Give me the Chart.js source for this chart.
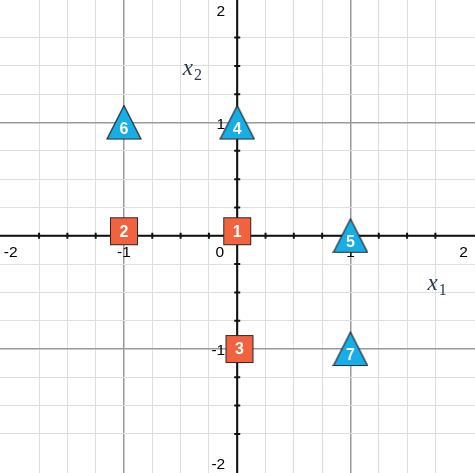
<!DOCTYPE html>
<html>
<head>
<meta charset="utf-8">
<script src="https://cdn.jsdelivr.net/npm/chart.js@4.4.1/dist/chart.umd.min.js"></script>
<style>
  body { margin: 0; background: #fff; }
</style>
</head>
<body>
<canvas id="myChart" width="475" height="473"></canvas>
<script>
// data
const squareLabels = ['1', '2', '3'];
const squareX = [0, -1, 0.02];
const squareY = [0.04, 0.04, -1];

const triangleLabels = ['4', '5', '6', '7'];
const triangleX = [0, 1, -1, 1];
const triangleY = [1, 0, 1, -1];

const tickValues = [-2, -1, 1, 2];
const tickLabels = ['-2', '-1', '1', '2'];

// marker images (pointStyle can be a canvas)
function makeSquare(size, fill) {
  const c = document.createElement('canvas');
  c.width = size + 2; c.height = size + 2;
  const g = c.getContext('2d');
  g.fillStyle = fill;
  g.fillRect(1, 1, size, size);
  g.strokeStyle = '#2a2a2a';
  g.lineWidth = 1;
  g.strokeRect(1.5, 1.5, size - 1, size - 1);
  return c;
}

function makeTriangle(size, fill) {
  const c = document.createElement('canvas');
  c.width = size + 2; c.height = size + 2;
  const g = c.getContext('2d');
  g.beginPath();
  g.moveTo(c.width / 2, 1);
  g.lineTo(size + 1, size + 0.5);
  g.lineTo(1, size + 0.5);
  g.closePath();
  g.fillStyle = fill;
  g.fill();
  g.strokeStyle = '#2a2a2a';
  g.lineWidth = 1.2;
  g.stroke();
  return c;
}

const toPoints = (xs, ys) => xs.map((v, i) => ({ x: v, y: ys[i] }));

const isInt = v => Math.abs(v - Math.round(v)) < 1e-6;
const isQuarter = v => Math.abs(v * 4 - Math.round(v * 4)) < 1e-6;

// grid: darker at integers, light every quarter
function gridColor(c) {
  const v = c.tick.value;
  if (isInt(v)) return '#9a9a9a';
  if (isQuarter(v)) return '#dedede';
  return 'rgba(0,0,0,0)';
}
const gridWidth = c => (isInt(c.tick.value) ? 1.5 : 1);

// axes through the origin, tick marks, tick labels and axis titles
const axesPlugin = {
  id: 'centerAxes',
  beforeDatasetsDraw(chart) {
    const { ctx, chartArea, scales: { x, y } } = chart;
    const x0 = x.getPixelForValue(0);
    const y0 = y.getPixelForValue(0);
    ctx.save();
    ctx.strokeStyle = '#111';
    ctx.lineWidth = 2;
    ctx.beginPath();
    ctx.moveTo(chartArea.left, y0); ctx.lineTo(chartArea.right, y0);
    ctx.moveTo(x0, chartArea.top); ctx.lineTo(x0, chartArea.bottom);
    ctx.stroke();

    // tick marks every 0.25, longer at integers
    ctx.beginPath();
    x.ticks.forEach(t => {
      const v = t.value;
      if (!isQuarter(v) || Math.abs(v) < 1e-6) return;
      const len = isInt(v) ? 5 : 3;
      const px = x.getPixelForValue(v);
      ctx.moveTo(px, y0 - len); ctx.lineTo(px, y0 + len);
    });
    y.ticks.forEach(t => {
      const v = t.value;
      if (!isQuarter(v) || Math.abs(v) < 1e-6) return;
      const len = isInt(v) ? 5 : 3;
      const py = y.getPixelForValue(v);
      ctx.moveTo(x0 - len, py); ctx.lineTo(x0 + len, py);
    });
    ctx.stroke();

    // tick labels
    ctx.fillStyle = '#000';
    ctx.font = '15.5px "Liberation Sans", Arial, sans-serif';
    ctx.textBaseline = 'middle';
    ctx.textAlign = 'center';
    tickValues.forEach((v, i) => {
      ctx.fillText(tickLabels[i], x.getPixelForValue(v), y0 + 17);
    });
    ctx.textAlign = 'right';
    tickValues.forEach((v, i) => {
      ctx.fillText(tickLabels[i], x0 - 12, y.getPixelForValue(v) + 2);
    });
    ctx.fillText('0', x0 - 13, y0 + 17);

    // axis titles
    ctx.fillStyle = '#2b3a4a';
    ctx.textAlign = 'left';
    ctx.textBaseline = 'alphabetic';
    const title = (sub, vx, vy) => {
      const px = x.getPixelForValue(vx), py = y.getPixelForValue(vy);
      ctx.font = 'italic 23px "Liberation Serif", "DejaVu Serif", serif';
      ctx.fillText('x', px, py);
      const w = ctx.measureText('x').width;
      ctx.font = '16px "Liberation Serif", "DejaVu Serif", serif';
      ctx.fillText(sub, px + w + 1, py + 5);
    };
    title('1', 1.68, -0.48);
    title('2', -0.48, 1.42);
    ctx.restore();
  },
  afterDatasetsDraw(chart) {
    const { ctx } = chart;
    ctx.save();
    ctx.fillStyle = '#fff';
    ctx.font = 'bold 16px "Liberation Sans", Arial, sans-serif';
    ctx.textAlign = 'center';
    ctx.textBaseline = 'middle';
    chart.data.datasets.forEach((ds, di) => {
      const meta = chart.getDatasetMeta(di);
      meta.data.forEach((el, i) => {
        ctx.fillText(ds.pointLabels[i], el.x, el.y + ds.labelShift);
      });
    });
    ctx.restore();
  }
};

const ctx = document.getElementById('myChart').getContext('2d');

const chart = new Chart(ctx, {
  type: 'scatter',
  data: {
    datasets: [
      {
        label: 'squares',
        data: toPoints(squareX, squareY),
        pointStyle: makeSquare(28, '#f2623e'),
        pointLabels: squareLabels,
        labelShift: 1,
      },
      {
        label: 'triangles',
        data: toPoints(triangleX, triangleY),
        pointStyle: makeTriangle(34, '#17ade6'),
        pointLabels: triangleLabels,
        labelShift: 7,
      },
    ],
  },
  options: {
    responsive: false,
    animation: false,
    devicePixelRatio: 1,
    layout: { padding: 0, autoPadding: false },
    plugins: {
      legend: { display: false },
      tooltip: { enabled: false },
    },
    scales: {
      x: {
        type: 'linear',
        min: -2.095,
        max: 2.1,
        ticks: { stepSize: 0.25, display: false },
        grid: { color: gridColor, lineWidth: gridWidth, drawTicks: false },
        border: { display: false },
      },
      y: {
        type: 'linear',
        min: -2.095,
        max: 2.082,
        ticks: { stepSize: 0.25, display: false },
        grid: { color: gridColor, lineWidth: gridWidth, drawTicks: false },
        border: { display: false },
      },
    },
  },
  plugins: [axesPlugin],
});
</script>
</body>
</html>
